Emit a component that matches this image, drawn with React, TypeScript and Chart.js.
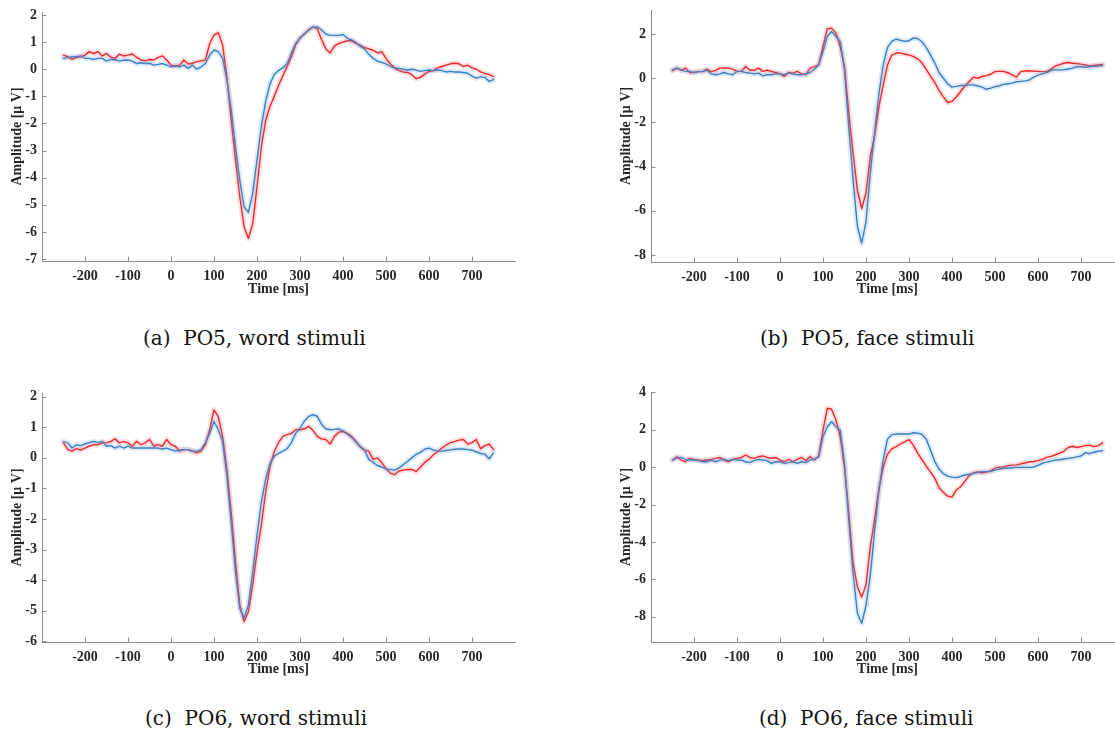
import React, { useEffect, useRef } from "react";
import { Chart, registerables } from "chart.js";

Chart.register(...registerables);

// Time axis (ms)
const times = [
  -250, -240, -230, -220, -210, -200, -190, -180, -170, -160,
  -150, -140, -130, -120, -110, -100, -90, -80, -70, -60,
  -50, -40, -30, -20, -10, 0, 10, 20, 30, 40,
  50, 60, 70, 80, 90, 100, 110, 120, 130, 140,
  150, 160, 170, 180, 190, 200, 210, 220, 230, 240,
  250, 260, 270, 280, 290, 300, 310, 320, 330, 340,
  350, 360, 370, 380, 390, 400, 410, 420, 430, 440,
  450, 460, 470, 480, 490, 500, 510, 520, 530, 540,
  550, 560, 570, 580, 590, 600, 610, 620, 630, 640,
  650, 660, 670, 680, 690, 700, 710, 720, 730, 740,
  750,
];

// (a) PO5, word stimuli
const redA = [
  0.52, 0.46, 0.36, 0.44, 0.46, 0.52, 0.65, 0.58, 0.65, 0.49,
  0.58, 0.44, 0.40, 0.55, 0.49, 0.52, 0.56, 0.44, 0.34, 0.31,
  0.36, 0.34, 0.44, 0.49, 0.34, 0.15, 0.12, 0.15, 0.34, 0.19,
  0.22, 0.28, 0.31, 0.34, 0.95, 1.26, 1.35, 0.90, -0.28, -1.88,
  -3.35, -4.70, -5.81, -6.24, -5.70, -4.34, -2.86, -1.90, -1.38, -1.00,
  -0.60, -0.25, 0.10, 0.45, 0.90, 1.15, 1.30, 1.45, 1.55, 1.50,
  1.10, 0.75, 0.60, 0.85, 0.95, 1.00, 1.05, 1.05, 0.95, 0.88,
  0.80, 0.75, 0.70, 0.60, 0.65, 0.40, 0.20, 0.05, -0.05, -0.10,
  -0.12, -0.20, -0.35, -0.30, -0.18, -0.08, -0.05, 0.05, 0.10, 0.15,
  0.20, 0.22, 0.20, 0.10, 0.15, 0.05, 0.00, -0.10, -0.15, -0.20,
  -0.27,
];
const blueA = [
  0.40, 0.43, 0.46, 0.46, 0.49, 0.40, 0.40, 0.36, 0.40, 0.40,
  0.30, 0.36, 0.35, 0.31, 0.33, 0.34, 0.30, 0.21, 0.24, 0.21,
  0.22, 0.15, 0.18, 0.21, 0.15, 0.09, 0.12, 0.09, 0.15, 0.03,
  0.15, 0.00, 0.09, 0.21, 0.52, 0.71, 0.65, 0.40, -0.40, -1.50,
  -2.86, -4.10, -5.07, -5.28, -4.58, -3.35, -2.12, -1.20, -0.55, -0.20,
  -0.05, 0.05, 0.20, 0.60, 0.95, 1.15, 1.30, 1.45, 1.55, 1.57,
  1.45, 1.30, 1.25, 1.25, 1.25, 1.28, 1.15, 1.08, 0.98, 0.85,
  0.75, 0.55, 0.40, 0.30, 0.25, 0.20, 0.10, 0.05, 0.03, 0.00,
  -0.03, 0.00, -0.03, -0.08, -0.05, -0.03, -0.05, -0.03, -0.05, -0.10,
  -0.08, -0.10, -0.10, -0.12, -0.15, -0.25, -0.33, -0.28, -0.30, -0.45,
  -0.38,
];

// (b) PO5, face stimuli
const redB = [
  0.34, 0.46, 0.36, 0.46, 0.26, 0.26, 0.30, 0.30, 0.41, 0.30,
  0.36, 0.46, 0.47, 0.46, 0.41, 0.31, 0.31, 0.53, 0.36, 0.36,
  0.46, 0.31, 0.36, 0.31, 0.26, 0.20, 0.08, 0.26, 0.23, 0.31,
  0.20, 0.16, 0.46, 0.53, 0.61, 1.44, 2.23, 2.27, 2.05, 1.44,
  0.53, -1.58, -3.40, -5.06, -5.90, -5.20, -3.55, -2.60, -1.30, -0.30,
  0.60, 1.05, 1.14, 1.14, 1.10, 1.05, 0.99, 0.88, 0.70, 0.40,
  0.10, -0.20, -0.55, -0.84, -1.10, -1.05, -0.85, -0.60, -0.35, -0.15,
  0.05, 0.00, 0.08, 0.12, 0.18, 0.30, 0.31, 0.31, 0.25, 0.15,
  0.05, 0.30, 0.33, 0.34, 0.32, 0.31, 0.30, 0.30, 0.40, 0.55,
  0.62, 0.68, 0.71, 0.68, 0.66, 0.64, 0.60, 0.56, 0.58, 0.60,
  0.62,
];
const blueB = [
  0.38, 0.46, 0.38, 0.31, 0.31, 0.26, 0.30, 0.31, 0.36, 0.20,
  0.16, 0.20, 0.26, 0.20, 0.16, 0.31, 0.31, 0.26, 0.23, 0.20,
  0.23, 0.11, 0.16, 0.16, 0.20, 0.20, 0.16, 0.23, 0.20, 0.16,
  0.16, 0.20, 0.26, 0.41, 0.61, 1.21, 1.89, 2.12, 1.89, 1.67,
  0.38, -2.20, -4.60, -6.70, -7.47, -6.50, -4.30, -2.45, -0.70, 0.60,
  1.40, 1.67, 1.77, 1.72, 1.67, 1.70, 1.82, 1.80, 1.65, 1.40,
  1.05, 0.70, 0.25, 0.00, -0.25, -0.40, -0.37, -0.33, -0.33, -0.30,
  -0.30, -0.35, -0.40, -0.50, -0.45, -0.38, -0.34, -0.28, -0.25, -0.22,
  -0.16, -0.14, -0.12, -0.08, 0.05, 0.14, 0.20, 0.26, 0.36, 0.38,
  0.38, 0.38, 0.42, 0.46, 0.52, 0.52, 0.50, 0.52, 0.54, 0.55,
  0.58,
];

// (c) PO6, word stimuli
const redC = [
  0.49, 0.27, 0.22, 0.30, 0.25, 0.32, 0.38, 0.43, 0.43, 0.49,
  0.49, 0.54, 0.62, 0.49, 0.54, 0.49, 0.38, 0.54, 0.43, 0.49,
  0.60, 0.38, 0.43, 0.38, 0.60, 0.43, 0.38, 0.22, 0.27, 0.27,
  0.22, 0.16, 0.22, 0.43, 0.92, 1.57, 1.35, 0.70, -0.38, -1.78,
  -3.40, -4.81, -5.35, -5.03, -4.16, -3.08, -2.20, -1.14, -0.30, 0.20,
  0.50, 0.70, 0.76, 0.80, 0.92, 0.92, 0.95, 1.03, 0.90, 0.70,
  0.62, 0.60, 0.45, 0.70, 0.84, 0.86, 0.80, 0.70, 0.54, 0.35,
  0.25, 0.22, -0.05, 0.00, -0.15, -0.35, -0.50, -0.55, -0.43, -0.40,
  -0.38, -0.38, -0.45, -0.30, -0.15, -0.05, 0.10, 0.20, 0.32, 0.42,
  0.50, 0.54, 0.58, 0.60, 0.45, 0.50, 0.60, 0.30, 0.40, 0.45,
  0.27,
];
const blueC = [
  0.53, 0.49, 0.32, 0.43, 0.40, 0.46, 0.50, 0.54, 0.50, 0.54,
  0.38, 0.40, 0.32, 0.38, 0.32, 0.38, 0.32, 0.32, 0.32, 0.32,
  0.32, 0.32, 0.32, 0.29, 0.32, 0.27, 0.22, 0.25, 0.27, 0.27,
  0.22, 0.22, 0.27, 0.49, 0.81, 1.19, 0.92, 0.54, -0.59, -2.10,
  -3.73, -4.92, -5.24, -4.81, -3.73, -2.54, -1.46, -0.70, -0.20, 0.05,
  0.15, 0.22, 0.30, 0.50, 0.80, 0.97, 1.20, 1.35, 1.41, 1.36,
  1.10, 0.95, 0.92, 0.93, 0.95, 0.88, 0.78, 0.67, 0.52, 0.38,
  0.26, -0.05, -0.15, -0.25, -0.30, -0.36, -0.38, -0.40, -0.33, -0.22,
  -0.12, 0.00, 0.11, 0.18, 0.28, 0.32, 0.26, 0.22, 0.22, 0.24,
  0.26, 0.28, 0.29, 0.29, 0.27, 0.25, 0.20, 0.14, 0.12, -0.03,
  0.16,
];

// (d) PO6, face stimuli
const redD = [
  0.38, 0.56, 0.38, 0.29, 0.47, 0.42, 0.38, 0.35, 0.38, 0.42,
  0.47, 0.52, 0.38, 0.29, 0.42, 0.47, 0.52, 0.65, 0.52, 0.47,
  0.56, 0.60, 0.52, 0.47, 0.52, 0.38, 0.29, 0.42, 0.29, 0.42,
  0.52, 0.35, 0.56, 0.38, 0.60, 1.98, 3.15, 3.10, 2.52, 1.63,
  0.02, -2.47, -5.14, -6.39, -6.95, -6.30, -4.25, -2.80, -1.15, 0.00,
  0.70, 0.98, 1.10, 1.24, 1.35, 1.48, 1.18, 0.75, 0.40, 0.05,
  -0.25, -0.60, -1.10, -1.35, -1.55, -1.60, -1.22, -1.05, -0.75, -0.45,
  -0.30, -0.26, -0.30, -0.26, -0.20, -0.05, 0.00, 0.00, 0.08, 0.11,
  0.12, 0.18, 0.22, 0.29, 0.30, 0.35, 0.42, 0.52, 0.58, 0.65,
  0.75, 0.85, 1.05, 1.12, 1.05, 1.10, 1.15, 1.18, 1.10, 1.15,
  1.30,
];
const blueD = [
  0.38, 0.50, 0.52, 0.42, 0.38, 0.38, 0.35, 0.29, 0.29, 0.38,
  0.29, 0.38, 0.42, 0.35, 0.42, 0.38, 0.38, 0.29, 0.24, 0.35,
  0.42, 0.38, 0.35, 0.20, 0.29, 0.29, 0.20, 0.24, 0.29, 0.20,
  0.29, 0.24, 0.38, 0.42, 0.56, 1.63, 2.16, 2.43, 2.16, 1.98,
  0.20, -2.83, -5.68, -7.81, -8.35, -7.40, -5.80, -3.40, -1.30, 0.40,
  1.50, 1.74, 1.77, 1.77, 1.77, 1.77, 1.84, 1.82, 1.76, 1.50,
  0.90, 0.30, -0.10, -0.35, -0.48, -0.53, -0.56, -0.50, -0.42, -0.38,
  -0.33, -0.28, -0.24, -0.24, -0.22, -0.16, -0.10, -0.06, -0.06, -0.03,
  -0.01, -0.01, -0.01, -0.01, 0.01, 0.10, 0.20, 0.27, 0.32, 0.38,
  0.40, 0.44, 0.47, 0.50, 0.55, 0.60, 0.78, 0.72, 0.80, 0.85,
  0.88,
];

// Tick labels
const xTicks = [-200, -100, 0, 100, 200, 300, 400, 500, 600, 700];
const yTicksA = [-7, -6, -5, -4, -3, -2, -1, 0, 1, 2];
const yTicksB = [-8, -6, -4, -2, 0, 2];
const yTicksC = [-6, -5, -4, -3, -2, -1, 0, 1, 2];
const yTicksD = [-8, -6, -4, -2, 0, 2, 4];

const captions = [
  "(a)  PO5, word stimuli",
  "(b)  PO5, face stimuli",
  "(c)  PO6, word stimuli",
  "(d)  PO6, face stimuli",
];

const RED = "#f01818";
const BLUE = "#2b7bc3";
const RED_BAND = "rgba(240, 100, 110, 0.2)";
const BLUE_BAND = "rgba(90, 150, 215, 0.2)";
const AXIS = "#8c8c8c";
const TEXT = "#262626";
const FONT = "'Liberation Serif', 'Times New Roman', serif";

const CW = 557;
const CH = 300;

const inwardTicks = {
  id: "inwardTicks",
  afterDraw(chart: any) {
    const { ctx, chartArea, scales } = chart;
    ctx.save();
    ctx.strokeStyle = AXIS;
    ctx.lineWidth = 1;
    ctx.beginPath();
    scales.x.ticks.forEach((t: any) => {
      const px = Math.round(scales.x.getPixelForValue(t.value)) + 0.5;
      ctx.moveTo(px, chartArea.bottom);
      ctx.lineTo(px, chartArea.bottom - 4.5);
    });
    scales.y.ticks.forEach((t: any) => {
      const py = Math.round(scales.y.getPixelForValue(t.value)) + 0.5;
      ctx.moveTo(chartArea.left, py);
      ctx.lineTo(chartArea.left + 4.5, py);
    });
    ctx.stroke();
    ctx.restore();
  },
};

type PanelProps = {
  red: number[];
  blue: number[];
  yTicks: number[];
  yMin: number;
  yMax: number;
  areaTop: number;
  areaBottom: number;
};

function Panel({ red, blue, yTicks, yMin, yMax, areaTop, areaBottom }: PanelProps) {
  const ref = useRef<HTMLCanvasElement | null>(null);
  useEffect(() => {
    if (!ref.current) return;
    const pts = (arr: number[]) => times.map((t, i) => ({ x: t, y: arr[i] }));
    const line = (arr: number[], color: string, width: number) => ({
      data: pts(arr),
      borderColor: color,
      backgroundColor: color,
      borderWidth: width,
      pointRadius: 0,
      tension: 0,
      fill: false,
      borderJoinStyle: "round" as const,
      borderCapStyle: "round" as const,
    });
    const chart = new Chart(ref.current, {
      type: "line",
      data: {
        datasets: [
          line(blue, BLUE_BAND, 5.5),
          line(red, RED_BAND, 5.5),
          line(blue, BLUE, 1.4),
          line(red, RED, 1.4),
        ],
      },
      options: {
        responsive: false,
        animation: false,
        devicePixelRatio: 1,
        layout: { padding: { left: 0, right: CW - 515, top: areaTop, bottom: 0 } },
        plugins: { legend: { display: false }, tooltip: { enabled: false } },
        scales: {
          x: {
            type: "linear",
            min: -300,
            max: 800,
            grid: { display: false, drawTicks: false },
            border: { display: true, color: AXIS, width: 1 },
            afterBuildTicks: (s: any) => {
              s.ticks = xTicks.map((v) => ({ value: v }));
            },
            afterFit: (s: any) => {
              s.height = CH - areaBottom;
              s.paddingLeft = 0;
              s.paddingRight = 0;
            },
            ticks: {
              padding: 7,
              color: TEXT,
              maxRotation: 0,
              autoSkip: false,
              font: { family: FONT, size: 14, weight: "bold" },
            },
            title: {
              display: true,
              text: "Time [ms]",
              color: TEXT,
              padding: { top: 2, bottom: 2 },
              font: { family: FONT, size: 14, weight: "bold" },
            },
          },
          y: {
            type: "linear",
            min: yMin,
            max: yMax,
            grid: { display: false, drawTicks: false },
            border: { display: true, color: AXIS, width: 1 },
            afterBuildTicks: (s: any) => {
              s.ticks = yTicks.map((v) => ({ value: v }));
            },
            afterFit: (s: any) => {
              s.width = 42;
              s.paddingTop = 0;
              s.paddingBottom = 0;
            },
            ticks: {
              padding: 5,
              color: TEXT,
              autoSkip: false,
              font: { family: FONT, size: 14, weight: "bold" },
            },
            title: {
              display: true,
              text: "Amplitude [μ V]",
              color: TEXT,
              padding: { top: 9, bottom: 4 },
              font: { family: FONT, size: 14, weight: "bold" },
            },
          },
        },
      },
      plugins: [inwardTicks],
    } as any);
    return () => chart.destroy();
  }, []);
  return <canvas ref={ref} width={CW} height={CH} style={{ display: "block" }} />;
}

const captionStyle: React.CSSProperties = {
  position: "absolute",
  fontFamily: "'DejaVu Serif', serif",
  fontSize: 20,
  lineHeight: "20px",
  color: "#111",
  whiteSpace: "pre",
};

export default function App() {
  return (
    <div
      style={{
        position: "fixed",
        left: 0,
        top: 0,
        width: 1115,
        height: 732,
        overflow: "hidden",
        background: "#fff",
      }}
    >
      <div style={{ position: "absolute", left: 0, top: 0 }}>
        <Panel red={redA} blue={blueA} yTicks={yTicksA} yMin={-7.07} yMax={2.11} areaTop={12} areaBottom={261} />
      </div>
      <div style={{ position: "absolute", left: 609, top: 0 }}>
        <Panel red={redB} blue={blueB} yTicks={yTicksB} yMin={-8.32} yMax={3.09} areaTop={10} areaBottom={262} />
      </div>
      <div style={{ position: "absolute", left: 0, top: 380 }}>
        <Panel red={redC} blue={blueC} yTicks={yTicksC} yMin={-6.02} yMax={2.12} areaTop={13} areaBottom={262} />
      </div>
      <div style={{ position: "absolute", left: 609, top: 380 }}>
        <Panel red={redD} blue={blueD} yTicks={yTicksD} yMin={-9.35} yMax={4.02} areaTop={12} areaBottom={262} />
      </div>
      <div style={{ ...captionStyle, left: 143, top: 328 }}>{captions[0]}</div>
      <div style={{ ...captionStyle, left: 760, top: 328 }}>{captions[1]}</div>
      <div style={{ ...captionStyle, left: 145, top: 708 }}>{captions[2]}</div>
      <div style={{ ...captionStyle, left: 759, top: 708 }}>{captions[3]}</div>
    </div>
  );
}
